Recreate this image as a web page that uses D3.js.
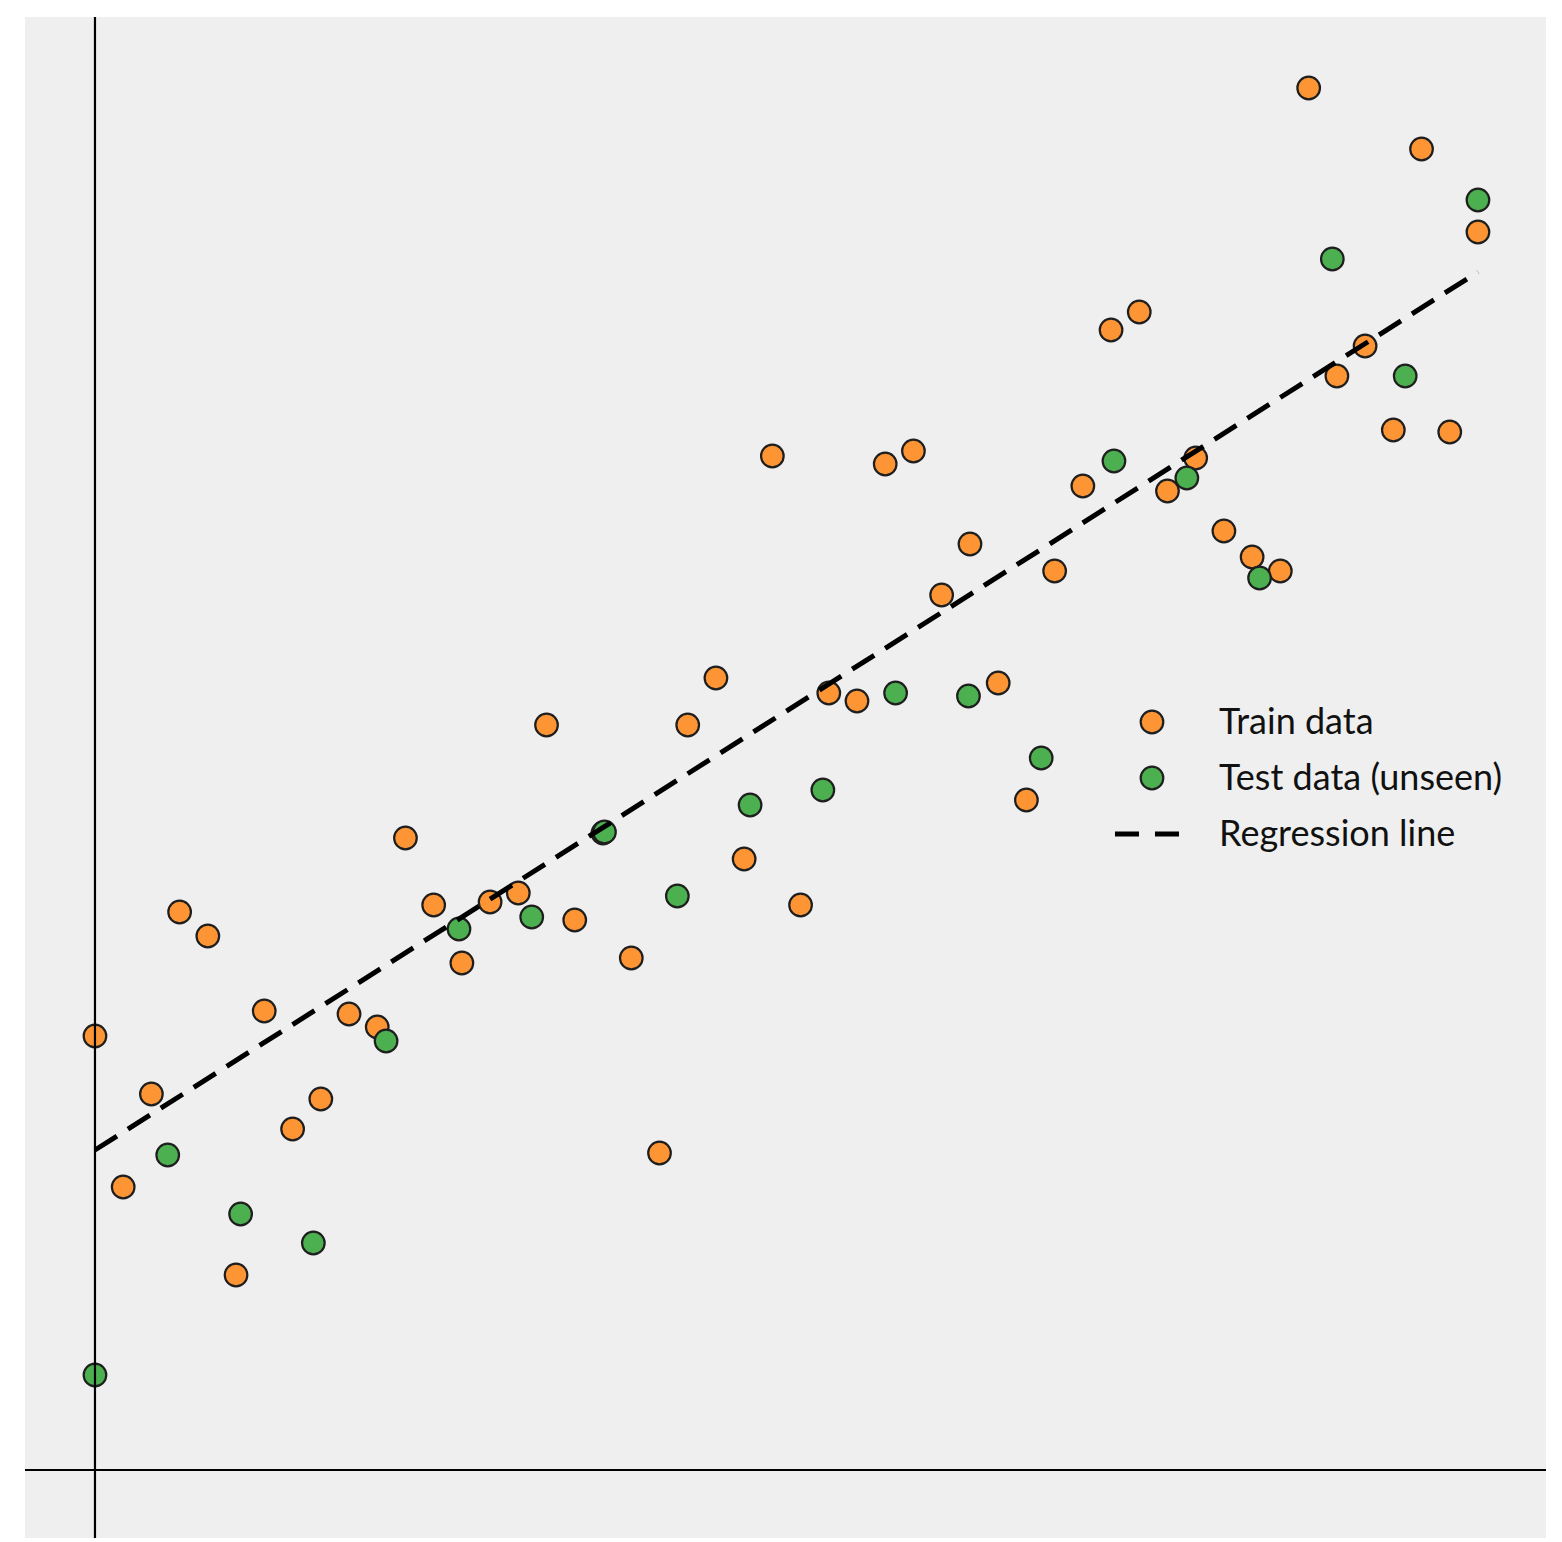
<!DOCTYPE html>
<html>
<head>
<meta charset="utf-8">
<script src="https://cdn.jsdelivr.net/npm/d3@7"></script>
<style>
  body { margin: 0; background: #fff; }
</style>
</head>
<body>
<div id="plot"></div>
<script>
// train data (x normalised 0..1)
const trainX = [0.0000, 0.0204, 0.0408, 0.0612, 0.0816, 0.1020, 0.1224, 0.1429, 0.1633, 0.1837,
  0.2041, 0.2245, 0.2449, 0.2653, 0.2857, 0.3061, 0.3265, 0.3469, 0.3673, 0.3878,
  0.4082, 0.4286, 0.4490, 0.4694, 0.4898, 0.5102, 0.5306, 0.5510, 0.5714, 0.5918,
  0.6122, 0.6327, 0.6531, 0.6735, 0.6939, 0.7143, 0.7347, 0.7551, 0.7755, 0.7959,
  0.8163, 0.8367, 0.8571, 0.8776, 0.8980, 0.9184, 0.9388, 0.9592, 0.9796, 1.0000];
const trainY = [4.34, 2.83, 3.76, 5.58, 5.34, 1.95, 4.59, 3.41, 3.71, 4.56,
  4.43, 6.32, 5.65, 5.07, 5.68, 5.77, 7.45, 5.50, 6.37, 5.12,
  3.17, 7.45, 7.92, 6.11, 10.14, 5.65, 7.77, 7.69, 10.06, 10.19,
  8.75, 9.26, 7.87, 6.70, 8.99, 9.84, 11.40, 11.58, 9.79, 10.12,
  9.39, 9.13, 8.99, 13.82, 10.94, 11.24, 10.40, 13.21, 10.38, 12.38];

// test data
const testX = [0.0000, 0.0526, 0.1053, 0.1579, 0.2105, 0.2632, 0.3158, 0.3684, 0.4211, 0.4737,
  0.5263, 0.5789, 0.6316, 0.6842, 0.7368, 0.7895, 0.8421, 0.8947, 0.9474, 1.0000];
const testY = [0.95, 3.15, 2.56, 2.27, 4.29, 5.41, 5.53, 6.38, 5.74, 6.65,
  6.80, 7.77, 7.74, 7.12, 10.09, 9.92, 8.92, 12.11, 10.94, 12.70];

// fitted line end points
const lineX = [0, 1];
const lineY = [3.20, 11.98];

const legendLabels = ["Train data", "Test data (unseen)", "Regression line"];

const W = 1562, H = 1542;
const panel = { left: 25, right: 1546, top: 17, bottom: 1538 };

const svg = d3.select("#plot")
  .append("svg")
  .attr("width", W)
  .attr("height", H);

const x = d3.scaleLinear()
  .domain([-0.0506, 1.0492])
  .range([panel.left, panel.right]);

const y = d3.scaleLinear()
  .domain([-0.68, 14.53])
  .range([panel.bottom, panel.top]);

// background
svg.append("rect")
  .attr("x", panel.left)
  .attr("y", panel.top)
  .attr("width", panel.right - panel.left)
  .attr("height", panel.bottom - panel.top)
  .attr("fill", "#efefef");

const orange = "#fd9535", green = "#4caf50", edge = "#1e1e1e";
const R = 11.3;

const train = trainX.map((d, i) => ({ x: d, y: trainY[i] }));
const test = testX.map((d, i) => ({ x: d, y: testY[i] }));

svg.append("g").selectAll("circle")
  .data(train)
  .enter()
  .append("circle")
  .attr("cx", d => x(d.x))
  .attr("cy", d => y(d.y))
  .attr("r", R)
  .attr("fill", orange)
  .attr("stroke", edge)
  .attr("stroke-width", 2.2);

svg.append("g").selectAll("circle")
  .data(test)
  .enter()
  .append("circle")
  .attr("cx", d => x(d.x))
  .attr("cy", d => y(d.y))
  .attr("r", R)
  .attr("fill", green)
  .attr("stroke", edge)
  .attr("stroke-width", 2.2);

// regression line
svg.append("path")
  .datum(lineX.map((d, i) => [d, lineY[i]]))
  .attr("d", d3.line().x(d => x(d[0])).y(d => y(d[1])))
  .attr("fill", "none")
  .attr("stroke", "#000")
  .attr("stroke-width", 5)
  .attr("stroke-dasharray", "26,13");

// axis lines at zero
svg.append("line")
  .attr("x1", x(0)).attr("x2", x(0))
  .attr("y1", panel.top).attr("y2", panel.bottom)
  .attr("stroke", "#000").attr("stroke-width", 2.2);
svg.append("line")
  .attr("x1", panel.left).attr("x2", panel.right)
  .attr("y1", y(0)).attr("y2", y(0))
  .attr("stroke", "#000").attr("stroke-width", 2.2);

// legend
const lg = svg.append("g").attr("transform", "translate(1152, 722)");
const rowH = 56;
lg.append("circle").attr("cx", 0).attr("cy", 0).attr("r", R)
  .attr("fill", orange).attr("stroke", edge).attr("stroke-width", 2.2);
lg.append("circle").attr("cx", 0).attr("cy", rowH).attr("r", R)
  .attr("fill", green).attr("stroke", edge).attr("stroke-width", 2.2);
lg.append("line").attr("x1", -37).attr("x2", 30)
  .attr("y1", rowH * 2).attr("y2", rowH * 2)
  .attr("stroke", "#000").attr("stroke-width", 5)
  .attr("stroke-dasharray", "24,16");

lg.selectAll("text")
  .data(legendLabels)
  .enter()
  .append("text")
  .attr("x", 67)
  .attr("y", (d, i) => i * rowH + 12)
  .attr("font-family", "Lato, 'Open Sans', sans-serif")
  .attr("font-size", 36)
  .attr("fill", "#111")
  .text(d => d);
</script>
</body>
</html>
